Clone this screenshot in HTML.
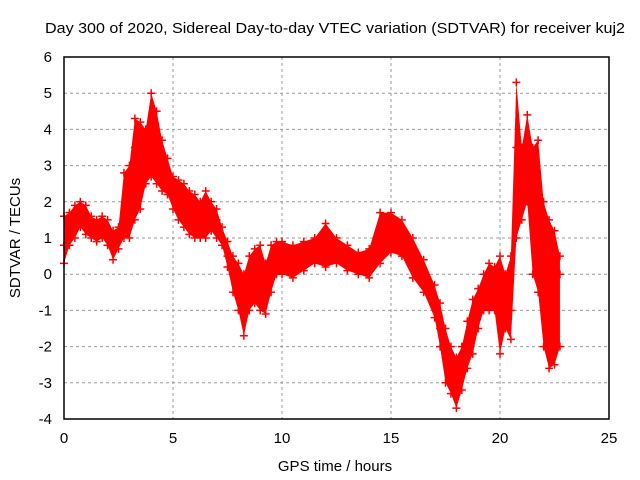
<!DOCTYPE html>
<html><head><meta charset="utf-8"><style>
body{margin:0;background:#fff;}
svg{display:block;font-family:"Liberation Sans",sans-serif;}
</style></head><body>
<svg id="chart" width="640" height="480">
<text x="335" y="33" font-size="15" text-anchor="middle" textLength="580" lengthAdjust="spacingAndGlyphs" fill="#000">Day 300 of 2020, Sidereal Day-to-day VTEC variation (SDTVAR) for receiver kuj2</text>
<text x="335" y="471" font-size="15" text-anchor="middle">GPS time / hours</text>
<text transform="translate(20,238) rotate(-90)" font-size="15" text-anchor="middle">SDTVAR / TECUs</text>
<g id="grid"></g><g id="ticks"></g><g id="data"></g>
<rect x="64" y="57" width="545" height="362" fill="none" stroke="#000" stroke-width="1.5"/>
</svg>
<script>
const hours=[0,0.25,0.5,0.75,1,1.25,1.5,1.75,2,2.25,2.5,2.75,3,3.25,3.5,3.75,4,4.25,4.5,4.75,5,5.25,5.5,5.75,6,6.25,6.5,6.75,7,7.25,7.5,7.75,8,8.25,8.5,8.75,9,9.25,9.5,9.75,10,10.5,11,11.5,12,12.5,13,13.5,14,14.5,15,15.5,16,16.5,17,17.25,17.5,17.75,18,18.25,18.5,18.75,19,19.25,19.5,19.75,20,20.25,20.5,20.75,21,21.25,21.5,21.75,22,22.25,22.5,22.75];
const center=[0.8,1.2,1.6,1.8,1.6,1.3,1.2,1.3,1.2,0.8,1.0,1.3,2.0,3.5,3.0,3.3,4.0,3.5,3.0,2.7,2.3,2.2,2.0,1.8,1.5,1.3,1.5,1.6,1.5,1.0,0.5,0.0,-0.5,-0.8,-0.5,0.0,0.0,-0.5,0.2,0.5,0.5,0.3,0.5,0.7,0.5,0.7,0.4,0.3,0.3,0.8,1.0,1.0,0.5,0.0,-0.7,-1.5,-2.3,-2.8,-3.0,-2.5,-2.0,-1.5,-0.8,-0.5,-0.5,-0.3,-1.0,-0.8,-1.0,3.5,2.5,3.5,2.0,1.5,1.0,0.5,0.0,0.0];
const low=[0.3,0.8,1.0,1.3,1.1,1.0,0.9,1.0,0.8,0.4,0.7,1.0,1.0,1.5,1.8,2.5,2.7,2.5,2.3,2.2,1.8,1.5,1.3,1.1,1.0,1.0,1.0,1.2,1.0,0.8,0.2,-0.5,-1.0,-1.7,-1.0,-0.8,-1.0,-1.1,-0.5,0.0,0.0,-0.1,0.1,0.3,0.2,0.3,0.1,0.0,-0.1,0.3,0.6,0.5,-0.1,-0.5,-1.2,-2.0,-3.0,-3.3,-3.7,-3.2,-2.6,-2.2,-1.5,-1.0,-1.0,-1.0,-2.2,-1.5,-1.8,1.0,1.5,2.0,0.0,-0.5,-2.0,-2.6,-2.5,-2.0];
const high=[1.6,1.7,1.9,2.0,1.9,1.6,1.5,1.6,1.5,1.2,1.3,2.8,3.0,4.3,4.2,4.0,5.0,4.5,3.7,3.2,2.7,2.6,2.5,2.3,2.2,2.0,2.3,2.0,1.8,1.3,0.9,0.5,0.3,0.0,0.5,0.7,0.8,0.3,0.8,0.9,0.9,0.8,0.9,1.0,1.4,1.0,0.8,0.6,0.7,1.7,1.7,1.5,1.0,0.4,-0.3,-0.8,-1.5,-2.0,-2.3,-2.0,-1.3,-0.7,-0.4,0.0,0.3,0.2,0.5,0.0,0.5,5.3,3.5,4.4,3.5,3.7,2.0,1.5,1.2,0.5];
const xTicks=[0,5,10,15,20,25];
const yTicks=[-4,-3,-2,-1,0,1,2,3,4,5,6];
const X=v=>64+v*545/25, Y=v=>419-(v+4)*362/10;
const NS="http://www.w3.org/2000/svg";
function mk(tag,attrs,parent){const e=document.createElementNS(NS,tag);for(const k in attrs)e.setAttribute(k,attrs[k]);parent.appendChild(e);return e;}
const grid=document.getElementById('grid'),ticks=document.getElementById('ticks'),data=document.getElementById('data');
xTicks.forEach(t=>{
 if(t>0&&t<25){const g=mk('line',{x1:X(t),x2:X(t),y1:57,y2:419,stroke:'#999','stroke-dasharray':'3,3'},grid);
 
 }
 const l=mk('text',{x:X(t),y:443,'font-size':15,'text-anchor':'middle'},ticks);l.textContent=t;
 
 
});
yTicks.forEach(t=>{
 if(t>-4&&t<6){const g=mk('line',{x1:64,x2:609,y1:Y(t),y2:Y(t),stroke:'#999','stroke-dasharray':'3,3'},grid);
 
 }
 const l=mk('text',{x:52,y:Y(t)+5,'font-size':15,'text-anchor':'end'},ticks);l.textContent=t;
 
 
});
let pts=hours.map((h,i)=>X(h)+','+Y(high[i])).concat(hours.slice().reverse().map((h,j)=>{const i=hours.length-1-j;return X(h)+','+Y(low[i]);}));
const band=mk('polygon',{points:pts.join(' '),fill:'#ff0000'},data);


let d='';
hours.forEach((h,i)=>{[low[i],center[i],high[i]].forEach(v=>{const x=X(h),y=Y(v);d+=`M${x-4},${y}h8M${x},${y-4}v8`;});});
const m=mk('path',{d:d,stroke:'#ff0000','stroke-width':1.5,fill:'none'},data);


</script>
</body></html>
